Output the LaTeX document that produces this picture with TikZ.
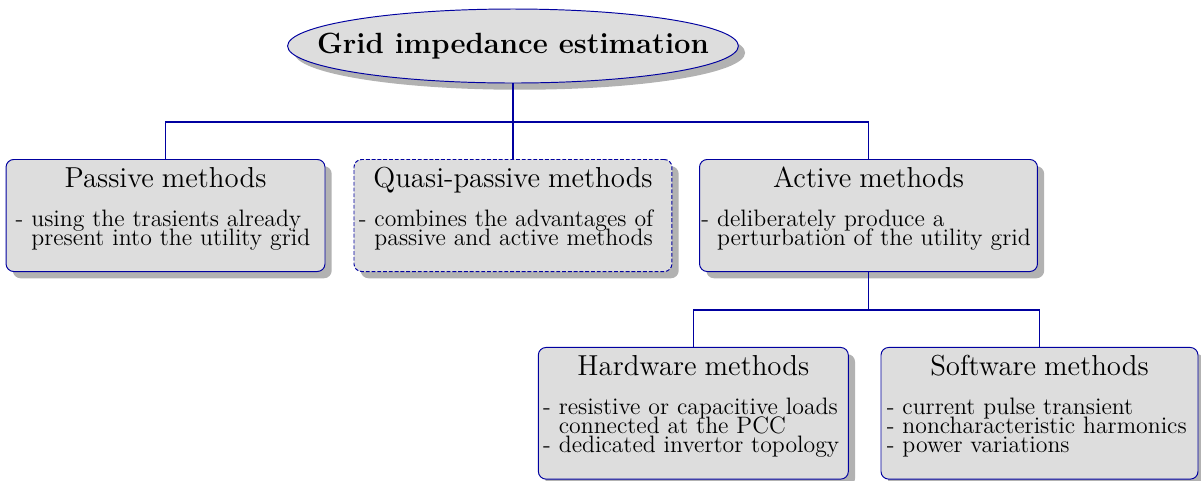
\documentclass[tikz,border=0pt]{standalone}
\usepackage{xcolor}
\usepackage{tikz}
\usetikzlibrary{shapes.geometric,shadows}
\definecolor{navy}{RGB}{0,0,160}
\definecolor{boxgray}{RGB}{221,221,221}
\newcommand{\methodtitle}{\fontsize{14.99}{17}\selectfont}
\newcommand{\methoditem}[1]{\par\setbox0\hbox{- }\hangindent=\wd0\hangafter=1 - #1\par}

\begin{document}
\begin{tikzpicture}[
    boxshadow/.style={drop shadow={shadow xshift=3.5pt,shadow yshift=-3.5pt,fill=black!30,opacity=1}},
    method/.style={draw=navy,line width=0.5pt,fill=boxgray,rounded corners,boxshadow,anchor=north,align=left,
        inner xsep=2.5pt,inner ysep=4pt,text height=10.5pt,
        font={\fontsize{12.35}{9.9}\selectfont\lineskiplimit=-20pt\relax}},
    link/.style={draw=navy,thick}]
    \useasboundingbox (0,0) rectangle (21.928,-8.764);
    \node[ellipse,draw=navy,line width=0.5pt,fill=boxgray,boxshadow,inner xsep=-19pt,
        minimum width=8.216cm,minimum height=1.351cm,
        font=\fontsize{15.2}{18}\selectfont\bfseries] (top) at (9.366,-0.840) {Grid impedance estimation};
    % first level
    \node[method,inner xsep=5pt,text width=5.472cm,text depth=39.7pt] (passive) at (3.022,-2.903)
        {{\centering\methodtitle Passive methods\par}\vspace{10.4pt}
         \methoditem{using the trasients already\newline present into the utility grid}};
    \node[method,dash pattern=on 2pt off 1pt,text width=5.63cm,text depth=39.7pt] (quasi) at (9.366,-2.903)
        {{\centering\methodtitle Quasi-passive methods\par}\vspace{10.4pt}
         \methoditem{combines the advantages of\newline passive and active methods}};
    \node[method,inner xsep=1pt,text width=6.1cm,text depth=39.7pt] (active) at (15.857,-2.903)
        {{\centering\methodtitle Active methods\par}\vspace{10.4pt}
         \methoditem{deliberately produce a\newline perturbation of the utility grid}};
    % second level
    \node[method,text width=5.484cm,text depth=49.9pt] (hardware) at (12.659,-6.335)
        {{\centering\methodtitle Hardware methods\par}\vspace{10.4pt}
         \methoditem{resistive or capacitive loads\newline connected at the PCC}
         \methoditem{dedicated invertor topology}};
    \node[method,inner xsep=3pt,text width=5.577cm,text depth=49.9pt] (software) at (18.979,-6.335)
        {{\centering\methodtitle Software methods\par}\vspace{10.4pt}
         \methoditem{current pulse transient}
         \methoditem{noncharacteristic harmonics}
         \methoditem{power variations}};
    \coordinate (bus) at (9.366,-2.2275);
    \coordinate (subbus) at (15.857,-5.660);
    \draw[link] (top) -- (quasi);
    \draw[link] (passive.north) |- (bus) -| (active.north);
    \draw[link] (active) -- (subbus);
    \draw[link] (hardware.north) |- (subbus) -| (software.north);
\end{tikzpicture}
\end{document}
